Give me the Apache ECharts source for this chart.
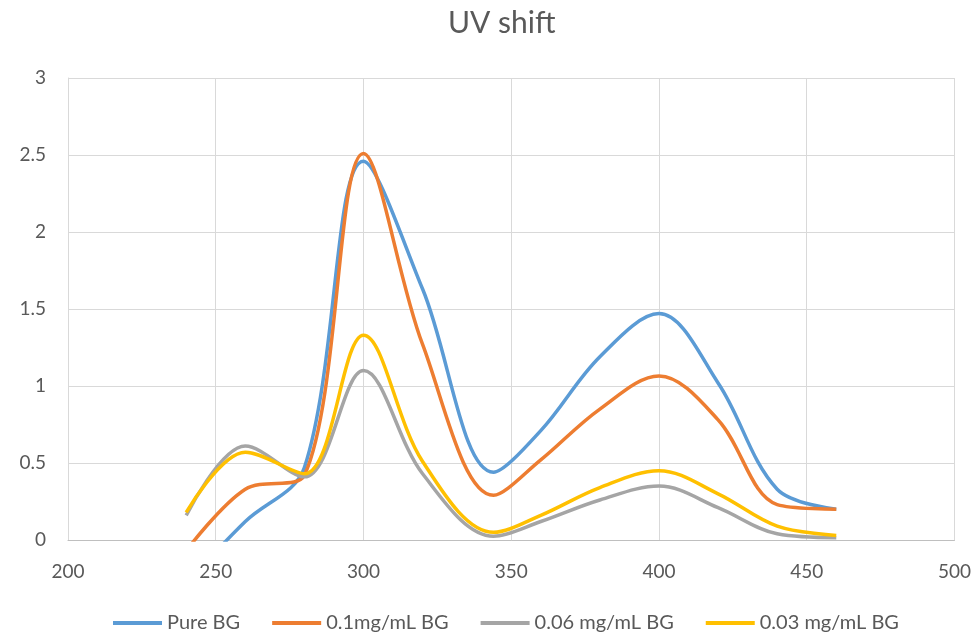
<!DOCTYPE html>
<html>
<head>
<meta charset="utf-8">
<script src="https://cdn.jsdelivr.net/npm/echarts@6/dist/echarts.min.js"></script>
<style>
html,body{margin:0;padding:0;background:#fff;}
#chart{width:974px;height:636px;}
</style>
</head>
<body>
<div id="chart"></div>
<script>
const wavelengths = [240, 260, 280, 300, 320, 344, 360, 380, 400, 420, 440, 460];
const pureBG   = [-0.28, 0.12, 0.47, 2.46, 1.63, 0.44, 0.71, 1.19, 1.47, 1.02, 0.33, 0.20];
const bg01     = [-0.07, 0.33, 0.42, 2.51, 1.27, 0.29, 0.52, 0.85, 1.065, 0.78, 0.23, 0.20];
const bg006    = [0.16, 0.61, 0.41, 1.10, 0.43, 0.025, 0.12, 0.26, 0.35, 0.21, 0.04, 0.015];
const bg003    = [0.18, 0.57, 0.43, 1.33, 0.51, 0.05, 0.16, 0.34, 0.45, 0.30, 0.09, 0.03];
const seriesNames = ['Pure BG', '0.1mg/mL BG', '0.06 mg/mL BG', '0.03 mg/mL BG'];
const colors = ['#5B9BD5', '#ED7D31', '#A5A5A5', '#FFC000'];
const xTicks = [200, 250, 300, 350, 400, 450, 500];
const yTicks = [0, 0.5, 1, 1.5, 2, 2.5, 3];

const allData = [pureBG, bg01, bg006, bg003];
const font = 'Lato, "Liberation Sans", sans-serif';

const chart = echarts.init(document.getElementById('chart'), null, {renderer: 'canvas'});
chart.setOption({
  animation: false,
  backgroundColor: '#fff',
  color: colors,
  title: {
    text: 'UV shift',
    left: 443,
    top: 3,
    textStyle: {color: '#595959', fontSize: 30, fontWeight: 'normal', fontFamily: font}
  },
  legend: {
    top: 608,
    left: 108,
    icon: 'rect',
    itemWidth: 49,
    itemHeight: 4,
    itemGap: 32,
    textStyle: {color: '#595959', fontSize: 20, fontFamily: font},
    data: seriesNames
  },
  grid: {left: 68, right: 16, top: 78, bottom: 96, containLabel: false},
  xAxis: {
    type: 'value',
    min: xTicks[0],
    max: xTicks[xTicks.length - 1],
    interval: 50,
    axisLine: {show: true, lineStyle: {color: '#BFBFBF', width: 1}},
    axisTick: {show: false},
    axisLabel: {color: '#595959', fontSize: 19, fontFamily: font, margin: 22},
    splitLine: {show: true, lineStyle: {color: '#D9D9D9', width: 1}}
  },
  yAxis: {
    type: 'value',
    min: yTicks[0],
    max: yTicks[yTicks.length - 1],
    interval: 0.5,
    axisLine: {show: true, lineStyle: {color: '#D9D9D9', width: 1}},
    axisTick: {show: false},
    axisLabel: {color: '#595959', fontSize: 19, fontFamily: font, margin: 22},
    splitLine: {show: true, lineStyle: {color: '#D9D9D9', width: 1}}
  },
  series: seriesNames.map((name, i) => ({
    name: name,
    type: 'line',
    smooth: 0.35,
    showSymbol: false,
    clip: true,
    lineStyle: {width: 3.5, color: colors[i]},
    itemStyle: {color: colors[i]},
    data: wavelengths.map((w, j) => [w, allData[i][j]])
  }))
});
</script>
</body>
</html>
